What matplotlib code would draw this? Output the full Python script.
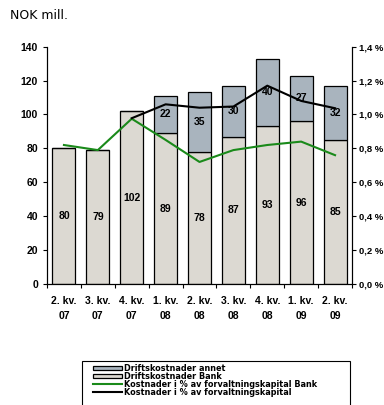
import numpy as np
import matplotlib
matplotlib.use("Agg")
import matplotlib.pyplot as plt
from matplotlib.patches import Rectangle
from matplotlib.ticker import FuncFormatter

plt.rcParams["font.family"] = ["Liberation Sans", "DejaVu Sans"]

quarters = ["2. kv.\n07", "3. kv.\n07", "4. kv.\n07", "1. kv.\n08", "2. kv.\n08",
            "3. kv.\n08", "4. kv.\n08", "1. kv.\n09", "2. kv.\n09"]
bank = [80, 79, 102, 89, 78, 87, 93, 96, 85]
annet = [0, 0, 0, 22, 35, 30, 40, 27, 32]
pct_bank = [0.82, 0.79, 0.975, 0.85, 0.72, 0.79, 0.82, 0.84, 0.76]
pct_total = [None, None, 0.978, 1.06, 1.04, 1.047, 1.17, 1.08, 1.037]

x = np.arange(len(quarters))
c_bank = "#dcd9d2"
c_annet = "#a9b4be"

fig = plt.figure(figsize=(3.84, 4.05), dpi=100)
ax = fig.add_axes([0.1224, 0.2988, 0.7943, 0.5859])
ax2 = ax.twinx()
ax.set_zorder(ax2.get_zorder() - 1)
ax.patch.set_visible(False)

w = 0.68
ax.bar(x, bank, w, color=c_bank, edgecolor="black", linewidth=0.9, label="Driftskostnader Bank")
ax.bar(x, annet, w, bottom=bank, color=c_annet, edgecolor="black", linewidth=0.9,
       label="Driftskostnader annet")

for i in range(len(x)):
    ax.text(x[i], bank[i] / 2, f"{bank[i]}", ha="center", va="center",
            fontsize=7.5, fontweight="bold")
    if annet[i]:
        ax.text(x[i], bank[i] + annet[i] / 2, f"{annet[i]}", ha="center", va="center",
                fontsize=7.5, fontweight="bold", zorder=5)

ax.set_xlim(-0.5, len(x) - 0.5)
ax.set_ylim(0, 140)
ax.set_yticks(range(0, 141, 20))
ax.set_xticks(x)
ax.set_xticklabels(quarters, fontsize=7.5, fontweight="bold", linespacing=1.6)
ax.set_xticks(np.arange(-0.5, len(x), 1), minor=True)
ax.tick_params(axis="x", which="major", length=0, pad=9)
ax.tick_params(axis="x", which="minor", length=3, width=0.8)
ax.tick_params(axis="y", labelsize=7.5, length=3, width=0.8)
for t in ax.get_yticklabels():
    t.set_fontweight("bold")
ax.spines["top"].set_visible(False)

ts = [v if v is not None else np.nan for v in pct_total]
l_bank, = ax2.plot(x, pct_bank, color="#1a8a1a", lw=1.5)
l_tot, = ax2.plot(x, ts, color="black", lw=1.5)
ax2.set_ylim(0, 1.4)
ax2.set_yticks(np.arange(0, 1.41, 0.2))
ax2.yaxis.set_major_formatter(FuncFormatter(lambda v, p: f"{v:.1f} %".replace(".", ",")))
ax2.tick_params(axis="y", labelsize=6.8, length=3, width=0.8, pad=2)
for t in ax2.get_yticklabels():
    t.set_fontweight("bold")
ax2.spines["top"].set_visible(False)

fig.text(0.026, 0.962, "NOK mill.", fontsize=9, family="DejaVu Sans", va="center")

# legend frame runs past the bottom edge, so draw it as a plain rectangle
fig.patches.append(Rectangle((82 / 384, -0.05), (350 - 82) / 384, 1 - 361 / 405 + 0.05,
                             transform=fig.transFigure, fill=False, edgecolor="black",
                             linewidth=0.8))
h1, _ = ax.get_legend_handles_labels()
handles = [h1[1], h1[0], l_bank, l_tot]
labels = ["Driftskostnader annet", "Driftskostnader Bank",
          "Kostnader i % av forvaltningskapital Bank", "Kostnader i % av forvaltningskapital"]
leg = fig.legend(handles, labels, loc="upper left",
                 bbox_to_anchor=(93 / 384, 1 - 364 / 405),
                 prop={"family": "DejaVu Sans", "weight": "bold", "size": 5.9},
                 handlelength=3.5, handleheight=0.5, handletextpad=0.3, labelspacing=-0.12,
                 borderpad=0, borderaxespad=0, frameon=False)

fig.savefig("out.png", dpi=100)
